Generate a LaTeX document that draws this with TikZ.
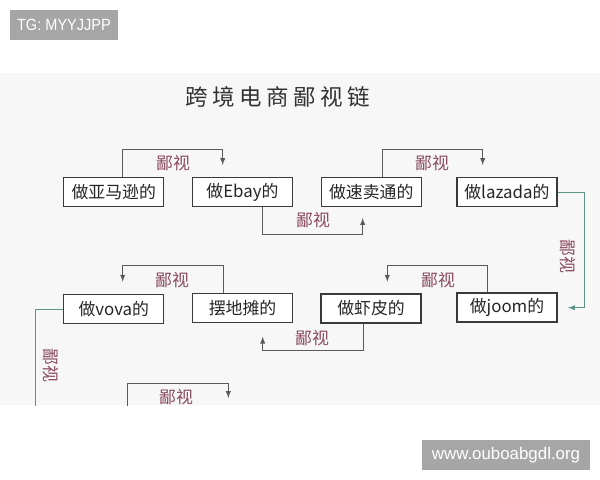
\documentclass[tikz,border=0pt]{standalone}
\usepackage{fontspec}
\setmainfont{Liberation Sans}
\newfontfamily\cjk{Noto Sans CJK SC}
\definecolor{panel}{HTML}{F7F7F7}
\definecolor{wm}{HTML}{A6A6A6}
\definecolor{boxline}{HTML}{3A3A3A}
\definecolor{linkgray}{HTML}{5A5A5A}
\definecolor{linkteal}{HTML}{5E9487}
\definecolor{bishi}{HTML}{8A4A5E}
\tikzset{
  shop/.style={draw=boxline,line width=0.9pt,fill=white,text=black!85,
    minimum width=2.5cm,minimum height=0.72cm,inner sep=0pt,
    font=\cjk\fontsize{12}{14}\selectfont},
  link/.style={draw=linkgray,line width=0.7pt,-latex},
  lbl/.style={text=bishi,inner sep=0pt,font=\cjk\fontsize{12}{14}\selectfont},
  stamp/.style={fill=wm,text=white,inner sep=0pt}
}
\begin{document}
\begin{tikzpicture}[x=0.025cm,y=-0.025cm]
   \useasboundingbox (0,0) rectangle (600,480);
   \fill[white] (0,0) rectangle (600,480);
   \fill[panel] (0,73) rectangle (600,405);

   % watermarks
   \node[stamp,minimum width=2.7cm,minimum height=0.75cm,
     font=\fontsize{11.5}{13}\selectfont] (tg) at (64,25) {\scalebox{0.9}[1]{TG: MYYJJPP}};
   \node[stamp,minimum width=4.19cm,minimum height=0.75cm,
     font=\fontsize{12}{14}\selectfont] (www) at (506,455) {www.ouboabgdl.org};

   % title
   \node[text=black!80,font=\cjk\fontsize{16}{18}\selectfont\addfontfeature{LetterSpace=20}]
     (title) at (278,97) {跨境电商鄙视链};

   \begin{scope}
   \clip (0,73) rectangle (600,405);

   % shops
   \node[shop] (amazon) at (113.8,192) {做亚马逊的};
   \node[shop] (ebay)   at (242.5,192) {做Ebay的};
   \node[shop] (aliexp) at (371.2,192) {做速卖通的};
   \node[shop] (lazada) at (506.9,192) {做lazada的};
   \node[shop] (vova)   at (113.8,309) {做vova的};
   \node[shop] (stall)  at (242.5,308) {摆地摊的};
   \node[shop] (shopee) at (371,308.5) {做虾皮的};
   \node[shop] (joom)   at (507,307.5) {做joom的};

   % arrow tips
   \coordinate (tipA) at (222.7,165);
   \coordinate (tipB) at (362.7,218);
   \coordinate (tipC) at (482.7,165);
   \coordinate (tipD) at (568,307.7);
   \coordinate (tipE) at (387.3,281.7);
   \coordinate (tipF) at (262.7,336.7);
   \coordinate (tipG) at (122.7,281.7);
   \coordinate (tipH) at (228.3,398);
   \coordinate (endV) at (35.7,415);
   \coordinate (endB) at (127.3,415);

   % links
   \draw[link] ([xshift=6.4pt]amazon.north) |- (0,149 -| tipA) -- (tipA);
   \draw[link] ([xshift=14.4pt]ebay.south) |- (0,234.3 -| tipB) -- (tipB);
   \draw[link] ([xshift=8.2pt]aliexp.north) |- (0,149 -| tipC) -- (tipC);
   \draw[link,draw=linkteal] (lazada.east) -| (584.3,0 |- tipD) -- (tipD);
   \draw[link] ([xshift=-13.7pt]joom.north) |- (0,265 -| tipE) -- (tipE);
   \draw[link] ([xshift=-5.5pt]shopee.south) |- (0,350.7 -| tipF) -- (tipF);
   \draw[link] ([xshift=-13.7pt]stall.north) |- (0,265 -| tipG) -- (tipG);
   \draw[draw=linkteal,line width=0.7pt] (vova.west) -| (endV);
   \draw[link] (endB) |- (0,383.3 -| tipH) -- (tipH);

   % labels
   \node[lbl] (bs1) at (173,163) {鄙视};
   \node[lbl] (bs2) at (313,220) {鄙视};
   \node[lbl] (bs3) at (432,163) {鄙视};
   \node[lbl,rotate=-90] (bs4) at (567.5,256) {鄙视};
   \node[lbl] (bs5) at (438,280) {鄙视};
   \node[lbl] (bs6) at (312,338) {鄙视};
   \node[lbl] (bs7) at (172,280) {鄙视};
   \node[lbl,rotate=-90] (bs8) at (50.5,365) {鄙视};
   \node[lbl] (bs9) at (176,397) {鄙视};
   \end{scope}
\end{tikzpicture}
\end{document}
